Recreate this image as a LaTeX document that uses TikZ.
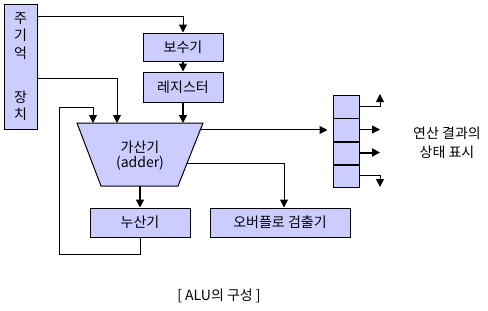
\documentclass[tikz,border=0pt]{standalone}
\usepackage{fontspec}
\setmainfont{Noto Sans CJK KR}
\usetikzlibrary{arrows.meta,calc}
\definecolor{boxfill}{RGB}{204,204,255}
\begin{document}
\begin{tikzpicture}[x=1pt,y=-1pt,>={Triangle[length=8pt,width=8pt]},font=\fontsize{14}{15}\selectfont]
   \tikzstyle{every node}=[node distance=40pt,inner sep=0pt]
   \tikzstyle{unit}=[draw,fill=boxfill,line width=1pt,minimum width=80pt,minimum height=29pt]
   \tikzstyle{flag}=[draw,fill=boxfill,line width=1pt,minimum width=26pt,minimum height=23pt]
   \tikzstyle{wire}=[line width=1pt]
   \tikzstyle{vwire}=[line width=1.6pt]
   \useasboundingbox (0,0) rectangle (488,311);

   \node (mem) [unit,minimum width=33pt,minimum height=125pt,align=center,font=\fontsize{14}{17.5}\selectfont] at (20.5,66.5) {주\\기\\억\\[26.5pt]장\\치} ;
   \node (bosu) [unit,minimum height=28pt] at (183,47) {보수기} ;
   \node (reg) [unit,minimum height=30pt,below of=bosu] {레지스터} ;

   \coordinate (atl) at (77,123) ;
   \coordinate (atr) at (203,123) ;
   \coordinate (abr) at (178,186) ;
   \coordinate (abl) at (101,186) ;
   \filldraw [fill=boxfill,line width=1pt] (atl) -- (atr) -- (abr) -- (abl) -- cycle ;
   \node (adder) [align=center] at (140,155.5) {가산기\\(adder)} ;
   \coordinate (ain1) at (93,123) ;
   \coordinate (ain2) at (117,123) ;
   \coordinate (aout) at (140,186) ;
   \coordinate (aflag) at ($(atr)!0.111!(abr)$) ;
   \coordinate (aovfl) at ($(atr)!0.635!(abr)$) ;

   \node (nusan) [unit,minimum width=100pt] at (140,222.5) {누산기} ;
   \node (ovfl) [unit,minimum width=140pt,right of=nusan,node distance=140pt] {오버플로 검출기} ;

   \node (st1) [flag] at (346,106.5) {} ;
   \node (st2) [flag,below of=st1,node distance=23pt] {} ;
   \node (st3) [flag,below of=st2,node distance=23pt] {} ;
   \node (st4) [flag,below of=st3,node distance=23pt] {} ;
   \draw [line width=2pt] (st2.south west) -- (st2.south east) ;
   \draw [line width=2pt] (st3.south west) -- (st3.south east) ;
   \coordinate (fup) at (380,94) ;
   \coordinate (fdown) at (380,187) ;

   \node (flagtxt) [align=center,font=\fontsize{14}{19}\selectfont] at (447,143) {연산 결과의\\상태 표시} ;
   \node (title) at (219,296) {[ ALU의 구성 ]} ;

   \draw [wire,->] ([yshift=50.5pt]mem.east) -| (bosu.north) ;
   \draw [vwire,->] (bosu.south) -- (reg.north) ;
   \draw [vwire,->] (reg.south) -- (reg.south |- atl) ;
   \draw [wire,->] ([yshift=-11.5pt]mem.east) -| (ain2) ;
   \draw [wire,->] (nusan.south) -- ++(0,17) -| (59,107) -| (ain1) ;
   \draw [vwire,->] (aout) -- (nusan.north) ;
   \draw [wire,->] (aovfl) -| ([xshift=4pt]ovfl.north) ;
   \draw [wire,->,shorten >=5pt] (aflag) -- (aflag -| st2.west) ;

   \draw [wire,->] (st1.east) -| (fup) ;
   \draw [wire,->] (st2.east) -- (st2.east -| fup) ;
   \draw [line width=2pt,->] (st3.east) -- (st3.east -| fup) ;
   \draw [wire,->] (st4.east) -| (fdown) ;

\end{tikzpicture}
\end{document}
